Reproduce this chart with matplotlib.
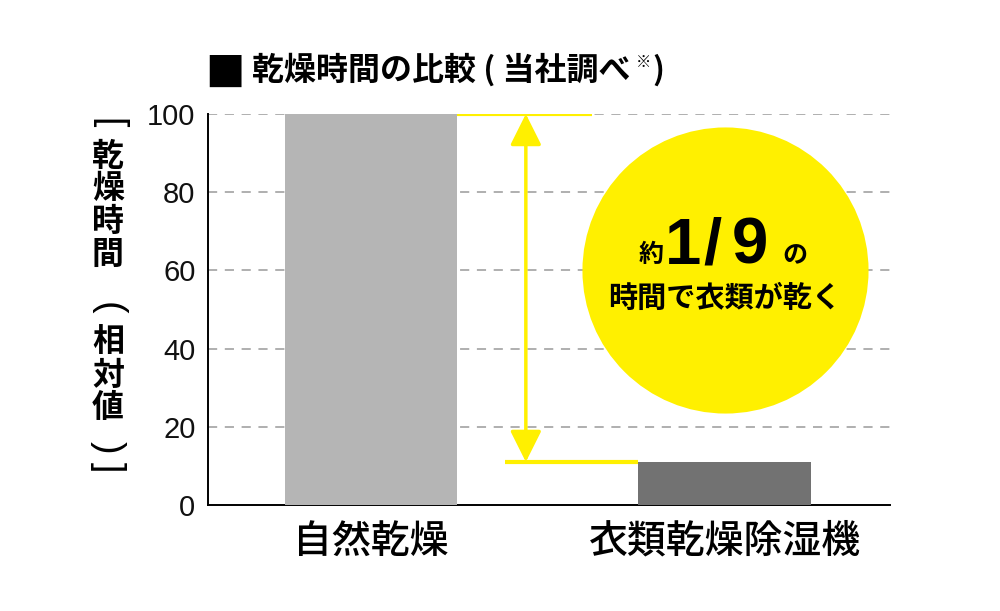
import matplotlib.pyplot as plt
import numpy as np

plt.rcParams['font.family'] = ['Noto Sans CJK JP', 'DejaVu Sans']

categories = ['自然乾燥', '衣類乾燥除湿機']
values = [100, 11]
bar_colors = ['#b5b5b5', '#727272']
yticks = [0, 20, 40, 60, 80, 100]

title_main = '乾燥時間の比較 ( 当社調べ'
ylabel_chars = ['[', '乾', '燥', '時', '間', '(', '相', '対', '値', ')', ']']
yellow = '#fff000'

W, H = 1000, 611
fig = plt.figure(figsize=(10, 6.11), dpi=100)
ax = fig.add_axes([0.208, 0.1735, 0.682, 0.64])

x = np.arange(len(categories))
width = 0.487
ax.bar(x, values, width=width, color=bar_colors, zorder=3)

ax.set_xlim(-0.461, 1.468)
ax.set_ylim(0, 100)
ax.set_yticks(yticks)
ax.set_yticklabels([str(t) for t in yticks], fontsize=21, family='Liberation Sans', color='#111111')
ax.set_xticks(x)
ax.set_xticklabels(categories, fontsize=28, weight='medium')
ax.tick_params(axis='both', length=0)
ax.tick_params(axis='y', pad=9)
ax.tick_params(axis='x', pad=12)

for s in ['top', 'right']:
    ax.spines[s].set_visible(False)
ax.spines['left'].set_linewidth(1.4)
ax.spines['bottom'].set_linewidth(1.4)

for t in yticks[1:]:
    ax.axhline(t, color='#9a9a9a', lw=1.1, ls=(0, (6, 5)), zorder=1)

# yellow guides
ax.plot([x[0] + width / 2, 0.625], [values[0], values[0]], color=yellow, lw=3, zorder=4, solid_capstyle='butt')
ax.plot([0.379, x[1] - width / 2], [values[1], values[1]], color=yellow, lw=3, zorder=4, solid_capstyle='butt')
ax.annotate('', xy=(0.438, values[1]), xytext=(0.438, values[0]),
            arrowprops=dict(arrowstyle='<|-|>,head_length=0.48,head_width=0.24', color=yellow, lw=2.5,
                            mutation_scale=40, shrinkA=0, shrinkB=0), zorder=4)

# circle
ax.scatter([1.0], [60], s=206 ** 2, color=yellow, zorder=2, linewidths=0)
for ch, dx in zip(['1', '/', '9'], [-30, -9, 18]):
    ax.annotate(ch, xy=(1.0, 66), xytext=(dx, 0), textcoords='offset points',
                fontsize=47, weight='bold', family='Liberation Sans',
                ha='center', va='center', zorder=5)
ax.annotate('約', xy=(1.0, 66), xytext=(-53, -6), textcoords='offset points',
            fontsize=18, weight='bold', ha='center', va='center', zorder=5)
ax.annotate('の', xy=(1.0, 66), xytext=(51, -7), textcoords='offset points',
            fontsize=18, weight='bold', ha='center', va='center', zorder=5)
ax.text(1.0, 53, '時間で衣類が乾く', fontsize=21, weight='semibold', ha='center', va='center', zorder=5)

# title: square, main text, small superscript mark, closing paren
fig.text(205 / W, 1 - 70 / H, '■', fontsize=30, ha='left', va='center', family='DejaVu Sans')
fig.text(252 / W, 1 - 70 / H, title_main, fontsize=23, weight='semibold', ha='left', va='center')
fig.text(643 / W, 1 - 62 / H, '※', fontsize=11, ha='center', va='center')
fig.text(652 / W, 1 - 70 / H, ')', fontsize=23, weight='semibold', ha='left', va='center')

# vertical y label, one character per row (brackets turned sideways)
ylabel_y = [123, 157, 189, 222, 255, 308, 342, 376, 408, 447, 467]
for ch, yy in zip(ylabel_chars, ylabel_y):
    if ch in '[]()':
        fig.text(108 / W, 1 - yy / H, ch, fontsize=27, family='Liberation Sans',
                 rotation=-90, ha='center', va='center')
    else:
        fig.text(108 / W, 1 - yy / H, ch, fontsize=23, weight='semibold', ha='center', va='center')

fig.savefig('out.png', dpi=100)
